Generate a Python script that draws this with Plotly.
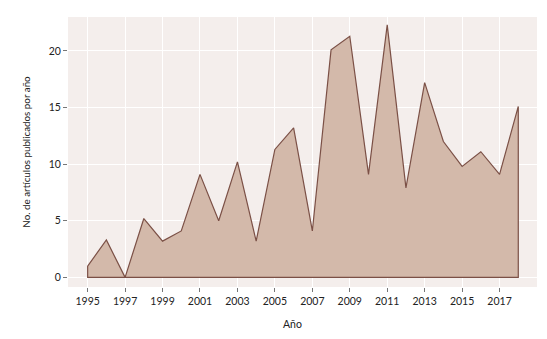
import plotly.graph_objects as go

years = list(range(1995, 2019))
counts = [1.0, 3.3, 0.0, 5.2, 3.2, 4.1, 9.1, 5.0, 10.2, 3.2, 11.3, 13.2,
          4.1, 20.1, 21.3, 9.1, 22.3, 7.9, 17.2, 12.0, 9.8, 11.1, 9.1, 15.1]
x_ticks = list(range(1995, 2019, 2))
y_ticks = [0, 5, 10, 15, 20]

# closed polygon: series, then down to baseline and back to start
poly_x = years + [years[-1], years[0], years[0]]
poly_y = counts + [0, 0, counts[0]]

fig = go.Figure()
fig.add_trace(go.Scatter(
    x=poly_x, y=poly_y, mode="lines", fill="toself",
    fillcolor="#d3b9aa", line=dict(color="#7b5046", width=1.2),
    hoverinfo="skip", showlegend=False))

font_family = "Lato, 'Open Sans', sans-serif"
fig.update_layout(
    width=547, height=339,
    margin=dict(l=60, r=18, t=9, b=60),
    paper_bgcolor="white", plot_bgcolor="#f4eeec",
    font=dict(family=font_family, size=10, color="#333333"),
    showlegend=False,
)
fig.update_xaxes(
    range=[1993.95, 2019.0], tickvals=x_ticks, ticktext=[str(v) for v in x_ticks],
    showgrid=True, gridcolor="white", gridwidth=1,
    ticks="outside", ticklen=4, tickcolor="#777777", tickwidth=1,
    zeroline=False, showline=False, automargin=False,
    tickfont=dict(size=10.5, color="#222222"),
)
fig.update_yaxes(
    range=[-0.85, 23.0], tickvals=y_ticks,
    showgrid=True, gridcolor="white", gridwidth=1,
    ticks="outside", ticklen=4, tickcolor="#777777", tickwidth=1,
    zeroline=False, showline=False, automargin=False,
    title=dict(text="No. de artículos publicados por año", font=dict(size=9.8, color="#222222"), standoff=16),
    tickfont=dict(size=10.5, color="#222222"),
)
fig.add_annotation(
    text="Año", xref="paper", yref="paper", x=0.478, y=0, yshift=-37,
    xanchor="center", yanchor="middle", showarrow=False,
    font=dict(size=10.5, color="#222222"))

fig.write_html("out.html")
